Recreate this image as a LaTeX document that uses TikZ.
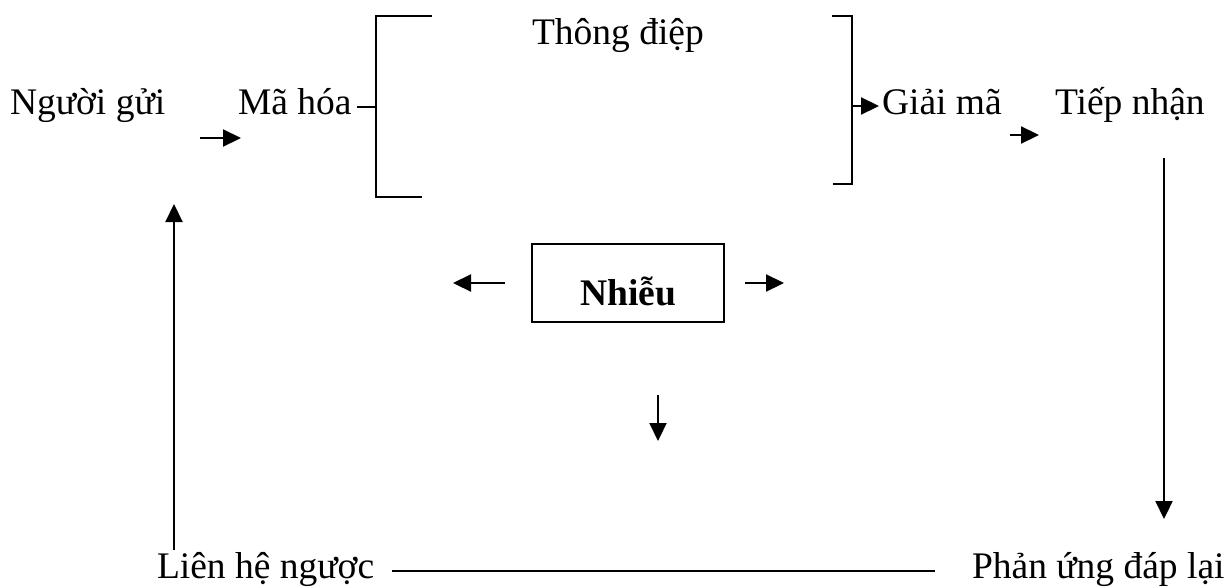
\documentclass[tikz,border=0pt]{standalone}
\usepackage{fontspec}
\setmainfont{Liberation Serif}
\usetikzlibrary{arrows.meta}
\tikzset{
  lbl/.style={inner sep=0pt, outer sep=0pt, anchor=base west, font=\fontsize{37.5}{44}\selectfont},
  ln/.style={line width=2.2pt},
  arr/.style={line width=2.2pt, -{Triangle[length=18pt,width=17pt]}},
  box/.style={draw, line width=2pt, minimum width=192pt, minimum height=78pt, inner sep=0pt}
}
\begin{document}
\begin{tikzpicture}[x=1pt,y=-1pt]
\useasboundingbox (0,0) rectangle (1232,587);
% texts
\node[lbl] (sender) at (10,114) {Người gửi};
\node[lbl] (encode) at (238,114) {Mã hóa};
\node[lbl] (msg) at (532,44) {Thông điệp};
\node[lbl] (decode) at (882,114) {Giải mã};
\node[lbl] (receive) at (1055,114) {Tiếp nhận};
\node[lbl] (feedback) at (157,578) {Liên hệ ngược};
\node[lbl] (response) at (972,578) {Phản ứng đáp lại};
% noise box
\node[box] (noisebox) at (628,283) {};
\node[lbl, anchor=base, font=\fontsize{37.5}{44}\selectfont\bfseries] (noise) at (628,305) {Nhiễu};
% brackets
\coordinate (lbt) at (432,16);
\coordinate (lbtop) at (376,16);
\coordinate (lbbot) at (376,197);
\coordinate (lbb) at (422,197);
\draw[ln] (lbt) -- (lbtop) -- (lbbot) -- (lbb);
\coordinate (rbt) at (832,16);
\coordinate (rbtop) at (852,16);
\coordinate (rbbot) at (852,184);
\coordinate (rbb) at (833,184);
\draw[ln] (rbt) -- (rbtop) -- (rbbot) -- (rbb);
% stubs
\coordinate (stubL) at (357,107);
\coordinate (stubLe) at (376,107);
\draw[ln] (stubL) -- (stubLe);
\coordinate (stubR) at (852,106);
\coordinate (stubRe) at (879,106);
\draw[arr] (stubR) -- (stubRe);
% small arrows
\coordinate (a1s) at (200,138);
\coordinate (a1e) at (241,138);
\draw[arr] (a1s) -- (a1e);
\coordinate (a2s) at (1010,135);
\coordinate (a2e) at (1039,135);
\draw[arr] (a2s) -- (a2e);
% noise arrows
\coordinate (nls) at (505,283);
\coordinate (nle) at (453,283);
\draw[arr] (nls) -- (nle);
\coordinate (nrs) at (745,283);
\coordinate (nre) at (784,283);
\draw[arr] (nrs) -- (nre);
\coordinate (nds) at (658,395);
\coordinate (nde) at (658,441);
\draw[arr] (nds) -- (nde);
% vertical arrows
\coordinate (rvs) at (1164,158);
\coordinate (rve) at (1164,519);
\draw[arr] (rvs) -- (rve);
\coordinate (lvs) at (174,550);
\coordinate (lve) at (174,204);
\draw[arr] (lvs) -- (lve);
% bottom line
\coordinate (bl) at (392,571);
\coordinate (br) at (935,571);
\draw[ln] (bl) -- (br);
\end{tikzpicture}
\end{document}
